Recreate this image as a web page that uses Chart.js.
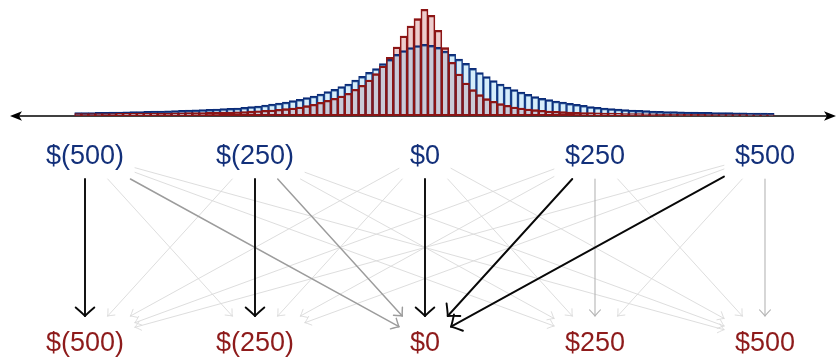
<!DOCTYPE html>
<html>
<head>
<meta charset="utf-8">
<script src="https://cdn.jsdelivr.net/npm/chart.js@4"></script>
<style>
  html, body { margin: 0; padding: 0; background: #fff; }
  #wrap { position: relative; width: 837px; height: 359px; }
  canvas { position: absolute; left: 0; }
  #hist { top: 0; }
  #flows { top: 125px; }
</style>
</head>
<body>
<div id="wrap">
  <canvas id="hist" width="837" height="125"></canvas>
  <canvas id="flows" width="837" height="234"></canvas>
</div>
<script>
// histogram bins: centres from -500 to 500 in steps of 10
const binCenters = Array.from({ length: 101 }, (_, i) => -500 + i * 10);

const redCounts = [
    2.3, 2.3, 2.4, 2.4, 2.5, 2.5, 2.6, 2.6, 2.7, 2.8, 2.8, 2.9, 3.0, 3.0, 3.1, 3.2, 3.3, 3.4, 3.5, 3.6, 3.7, 3.9,
    4.0, 4.2, 4.5, 4.8, 5.2, 5.6, 6.0, 6.7, 7.3, 8.0, 9.0, 10.3, 11.7, 13.7, 15.7, 17.7, 20.0,
    22.7, 26.7, 30.7, 36.0, 42.3, 50.0, 58.7, 69.0, 80.0, 90.0, 97.3, 106.7,
    100.7, 85.7, 68.3, 53.7, 42.0, 33.0, 26.3, 21.3, 17.3, 14.7, 12.3, 10.7, 9.0, 8.0, 7.0, 6.3, 5.7, 5.0, 4.7,
    4.3, 4.0, 3.7, 3.5, 3.3, 3.1, 3.0, 2.8, 2.7, 2.5, 2.4, 2.3, 2.2, 2.1, 2.0,
    1.9, 1.9, 1.8, 1.7, 1.6, 1.6, 1.5, 1.5, 1.4, 1.4, 1.3, 1.3, 1.2, 1.2, 1.1, 1.1,
];

const blueCounts = [
    3.3, 3.3, 3.4, 3.6, 3.7, 3.9, 4.0, 4.2, 4.4, 4.5, 4.7, 4.9, 5.0, 5.2, 5.5, 5.7, 5.9, 6.2, 6.4, 6.7, 7.0, 7.3,
    7.6, 8.0, 8.7, 9.3, 10.0, 11.0, 12.0, 13.0, 14.0, 15.3, 16.7, 18.3, 20.0, 22.0, 24.3, 26.7, 29.3,
    32.0, 36.0, 39.7, 43.7, 47.3, 52.3, 56.7, 61.7, 65.3, 68.3, 70.3, 71.7,
    70.7, 68.7, 65.0, 61.7, 57.0, 52.7, 47.7, 43.3, 39.3, 35.3, 32.0, 29.0, 26.3, 24.0, 21.7, 19.3, 17.7, 16.3, 15.0,
    14.0, 12.7, 11.7, 10.7, 9.3, 8.7, 8.0, 7.3, 7.0, 6.3, 6.0, 5.7, 5.3, 5.0, 4.7,
    4.5, 4.3, 4.1, 4.0, 3.8, 3.7, 3.6, 3.5, 3.4, 3.3, 3.2, 3.1, 3.0, 2.9, 2.8, 2.7,
];

// rounding nodes and how much flows from each top node (row) to each bottom node (column)
const nodeValues = [-500, -250, 0, 250, 500];
const nodeLabels = ["$(500)", "$(250)", "$0", "$250", "$500"];
const flowWeights = [
    [1.0, 0.15, 0.4, 0.15, 0.15],
    [0.15, 1.0, 0.4, 0.15, 0.15],
    [0.15, 0.15, 1.0, 0.15, 0.15],
    [0.15, 0.15, 1.0, 0.3, 0.15],
    [0.15, 0.15, 1.0, 0.15, 0.3],
];

const FONT = "27px 'Liberation Sans', Arial, sans-serif";
const TOP_COLOR = "#13307a";
const BOTTOM_COLOR = "#8e1b1b";

// number line with arrow tips at both ends, drawn under the bars
const axisLine = {
    id: "axisLine",
    beforeDatasetsDraw(chart) {
        const ctx = chart.ctx;
        const y = chart.chartArea.bottom;
        const w = chart.width;
        ctx.save();
        ctx.strokeStyle = "#000";
        ctx.lineWidth = 1.5;
        ctx.beginPath();
        ctx.moveTo(16, y);
        ctx.lineTo(w - 6, y);
        ctx.stroke();
        ctx.fillStyle = "#000";
        [[10, 1], [w - 1, -1]].forEach(([tip, dir]) => {
            ctx.beginPath();
            ctx.moveTo(tip, y);
            ctx.lineTo(tip + dir * 12, y - 4.8);
            ctx.lineTo(tip + dir * 9, y);
            ctx.lineTo(tip + dir * 12, y + 4.8);
            ctx.closePath();
            ctx.fill();
        });
        ctx.restore();
    },
};

new Chart(document.getElementById("hist"), {
    type: "bar",
    data: {
        labels: binCenters,
        datasets: [
            {
                label: "after (outline)",
                data: redCounts,
                backgroundColor: "rgba(0,0,0,0)",
                borderColor: "#8c1515",
                borderWidth: { top: 1.6, left: 0.9, right: 0.9, bottom: 1.6 },
                borderSkipped: false,
                grouped: false,
                order: 0,
            },
            {
                label: "before",
                data: blueCounts,
                backgroundColor: "rgba(120,195,240,0.3)",
                borderColor: "#0b2c78",
                borderWidth: { top: 1.8, left: 0.9, right: 0.9, bottom: 0 },
                borderSkipped: false,
                grouped: false,
                order: 1,
            },
            {
                label: "after",
                data: redCounts,
                backgroundColor: "rgba(190,75,75,0.28)",
                borderWidth: 0,
                grouped: false,
                order: 2,
            },
        ],
    },
    options: {
        responsive: false,
        animation: false,
        layout: { padding: { left: 74.5, right: 62.6, top: 0, bottom: 9 } },
        datasets: { bar: { barPercentage: 1, categoryPercentage: 1 } },
        scales: {
            x: { display: false },
            y: { display: false, min: 0, max: 116 },
        },
        plugins: { legend: { display: false }, tooltip: { enabled: false } },
    },
    plugins: [axisLine],
});

// node boxes: half sizes of the box around each label
function nodeBox(ctx, text) {
    ctx.font = FONT;
    return { hw: ctx.measureText(text).width / 2 + 11, hh: 25 };
}

function clipToBox(cx, cy, ux, uy, box) {
    const tx = Math.abs(ux) > 1e-6 ? box.hw / Math.abs(ux) : Infinity;
    const ty = Math.abs(uy) > 1e-6 ? box.hh / Math.abs(uy) : Infinity;
    const t = Math.min(tx, ty);
    return [cx + ux * t, cy + uy * t];
}

// curved "to" style arrow tip
function arrowTip(ctx, x, y, ux, uy, len, half) {
    const px = -uy, py = ux;
    ctx.beginPath();
    [1, -1].forEach((s) => {
        const bx = x - ux * len + px * half * s;
        const by = y - uy * len + py * half * s;
        const cx = x - ux * len * 0.2 + px * half * 0.15 * s;
        const cy = y - uy * len * 0.2 + py * half * 0.15 * s;
        ctx.moveTo(bx, by);
        ctx.quadraticCurveTo(cx, cy, x, y);
    });
    ctx.stroke();
}

const flowArrows = {
    id: "flowArrows",
    afterDatasetsDraw(chart) {
        const ctx = chart.ctx;
        const xs = chart.scales.x, ys = chart.scales.y;
        const topY = ys.getPixelForValue(1);
        const botY = ys.getPixelForValue(0);
        const boxes = nodeLabels.map((t) => nodeBox(ctx, t));

        const flows = [];
        flowWeights.forEach((row, i) => row.forEach((w, j) => flows.push({ i, j, w })));
        flows.sort((a, b) => a.w - b.w);

        ctx.save();
        ctx.lineCap = "round";
        flows.forEach(({ i, j, w }) => {
            const x0 = xs.getPixelForValue(nodeValues[i]);
            const x1 = xs.getPixelForValue(nodeValues[j]);
            const dx = x1 - x0, dy = botY - topY;
            const d = Math.hypot(dx, dy);
            const ux = dx / d, uy = dy / d;
            const [sx, sy] = clipToBox(x0, topY, ux, uy, boxes[i]);
            const [ex, ey] = clipToBox(x1, botY, -ux, -uy, boxes[j]);
            const g = Math.round(255 * (1 - w * 0.97));
            ctx.strokeStyle = `rgb(${g},${g},${g})`;
            ctx.lineWidth = 0.75 + 1.15 * w + (w > 0.35 && w < 1 ? 0.25 : 0);
            ctx.beginPath();
            ctx.moveTo(sx, sy);
            ctx.lineTo(ex, ey);
            ctx.stroke();
            arrowTip(ctx, ex, ey, ux, uy, 5 + 3.5 * w, 3.8 + 5.5 * w);
        });

        ctx.font = FONT;
        ctx.textAlign = "center";
        ctx.textBaseline = "alphabetic";
        nodeValues.forEach((v, k) => {
            const x = xs.getPixelForValue(v);
            ctx.fillStyle = TOP_COLOR;
            ctx.fillText(nodeLabels[k], x, topY + 10);
            ctx.fillStyle = BOTTOM_COLOR;
            ctx.fillText(nodeLabels[k], x, botY + 10.5);
        });
        ctx.restore();
    },
};

new Chart(document.getElementById("flows"), {
    type: "scatter",
    data: {
        datasets: [
            { label: "from", data: nodeValues.map((v) => ({ x: v, y: 1 })), pointRadius: 0 },
            { label: "to", data: nodeValues.map((v) => ({ x: v, y: 0 })), pointRadius: 0 },
        ],
    },
    options: {
        responsive: false,
        animation: false,
        layout: { padding: 0 },
        scales: {
            x: { display: false, min: -625, max: 605.9 },
            y: { display: false, min: -0.0963, max: 1.1551 },
        },
        plugins: { legend: { display: false }, tooltip: { enabled: false } },
    },
    plugins: [flowArrows],
});
</script>
</body>
</html>
